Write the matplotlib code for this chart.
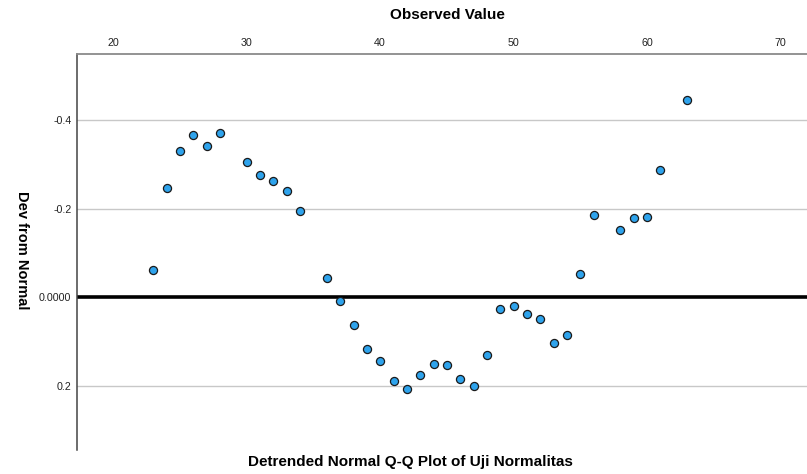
import matplotlib
matplotlib.use("Agg")
import matplotlib.pyplot as plt
from matplotlib.ticker import FixedLocator, FixedFormatter

plt.rcParams['font.family'] = ['Liberation Sans', 'DejaVu Sans']

observed = [23, 24, 25, 26, 27, 28, 30, 31, 32, 33, 34, 36, 37, 38, 39, 40,
            41, 42, 43, 44, 45, 46, 47, 48, 49, 50, 51, 52, 53, 54, 55, 56,
            58, 59, 60, 61, 63]
deviation = [-0.062, -0.248, -0.330, -0.366, -0.342, -0.372, -0.306, -0.276,
             -0.263, -0.241, -0.195, -0.043, 0.009, 0.062, 0.117, 0.144,
             0.188, 0.207, 0.176, 0.151, 0.154, 0.184, 0.201, 0.130, 0.026,
             0.020, 0.037, 0.048, 0.103, 0.086, -0.052, -0.186, -0.152,
             -0.179, -0.181, -0.287, -0.446]

x_ticks = [20, 30, 40, 50, 60, 70]
y_ticks = [-0.4, -0.2, 0.0, 0.2]
y_tick_labels = ['-0.4', '-0.2', '0.0000', '0.2']

fig = plt.figure(figsize=(8.07, 4.74), dpi=100)
ax = fig.add_axes([77 / 807, 1 - 450 / 474, 1 - 77 / 807, (450 - 54) / 474])

# grid lines and the zero reference line
for v in y_ticks:
    if v == 0.0:
        continue
    ax.axhline(v, color='#c8c8c8', lw=1.0, zorder=1)
ax.axhline(0.0, color='black', lw=2.6, zorder=2)

ax.scatter(observed, deviation, s=34, c='#2ea3ec', edgecolors='#1a1a1a',
           linewidths=0.9, zorder=3)

ax.set_xlim(17.27, 72.0)
ax.set_ylim(0.345, -0.550)

ax.xaxis.tick_top()
ax.xaxis.set_major_locator(FixedLocator(x_ticks))
ax.yaxis.set_major_locator(FixedLocator(y_ticks))
ax.yaxis.set_major_formatter(FixedFormatter(y_tick_labels))
ax.tick_params(axis='both', length=0, labelsize=7.7, colors='#222222')
ax.tick_params(axis='x', pad=4)
ax.tick_params(axis='y', pad=4)

for side in ['right', 'bottom']:
    ax.spines[side].set_visible(False)
ax.spines['top'].set_color('#8a8a8a')
ax.spines['top'].set_linewidth(1.3)
ax.spines['left'].set_color('#444444')
ax.spines['left'].set_linewidth(1.1)

fig.text(447 / 807, 1 - 15 / 474, 'Observed Value', fontsize=11,
         fontweight='bold', ha='center', va='center')
fig.text(22 / 807, 1 - 250 / 474, 'Dev from Normal', rotation=270,
         fontsize=10.5, fontweight='bold', ha='center', va='center')
fig.text(410 / 807, 1 - 462 / 474, 'Detrended Normal Q-Q Plot of Uji Normalitas',
         fontsize=11, fontweight='bold', ha='center', va='center')

fig.savefig('out.png', dpi=100)
